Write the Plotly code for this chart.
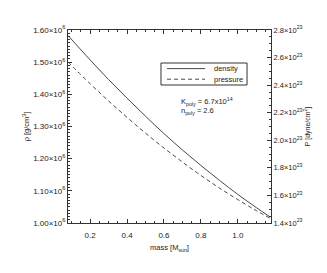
import plotly.graph_objects as go

mass = [0.08, 0.2, 0.3, 0.4, 0.5, 0.6, 0.7, 0.8, 0.9, 1.0, 1.1, 1.175]
density = [1.583e6, 1.507e6, 1.446e6, 1.388e6, 1.332e6, 1.278e6, 1.227e6,
           1.179e6, 1.133e6, 1.089e6, 1.048e6, 1.019e6]
pressure = [2.568e23, 2.410e23, 2.285e23, 2.166e23, 2.052e23, 1.944e23, 1.842e23,
            1.745e23, 1.654e23, 1.570e23, 1.490e23, 1.435e23]

rho_ticks = [1.0e6, 1.1e6, 1.2e6, 1.3e6, 1.4e6, 1.5e6, 1.6e6]
rho_labels = ["1.00×10<sup>6</sup>", "1.10×10<sup>6</sup>", "1.20×10<sup>6</sup>",
              "1.30×10<sup>6</sup>", "1.40×10<sup>6</sup>", "1.50×10<sup>6</sup>",
              "1.60×10<sup>6</sup>"]
p_ticks = [1.4e23, 1.6e23, 1.8e23, 2.0e23, 2.2e23, 2.4e23, 2.6e23, 2.8e23]
p_labels = ["1.4×10<sup>23</sup>", "1.6×10<sup>23</sup>", "1.8×10<sup>23</sup>",
            "2.0×10<sup>23</sup>", "2.2×10<sup>23</sup>", "2.4×10<sup>23</sup>",
            "2.6×10<sup>23</sup>", "2.8×10<sup>23</sup>"]
x_ticks = [0.2, 0.4, 0.6, 0.8, 1.0]
x_labels = ["0.2", "0.4", "0.6", "0.8", "1.0"]
series_names = ["density", "pressure"]

FONT = "Liberation Sans, Arial, sans-serif"
INK = "#333333"
fig = go.Figure()
fig.add_trace(go.Scatter(x=mass, y=density, mode="lines", name=series_names[0],
                         line=dict(color=INK, width=0.9, shape="spline"), yaxis="y"))
fig.add_trace(go.Scatter(x=mass, y=pressure, mode="lines", name=series_names[1],
                         line=dict(color=INK, width=0.9, dash="4px,3px", shape="spline"),
                         yaxis="y2"))

# page body has an 8px default margin, so the figure is sized 319x265
fig.update_layout(
    width=319, height=265,
    margin=dict(l=60, r=56, t=22, b=50),
    paper_bgcolor="white", plot_bgcolor="white",
    font=dict(family=FONT, size=8, color="#222222"),
    showlegend=False,
    xaxis=dict(range=[0.08, 1.18], tickvals=x_ticks, ticktext=x_labels,
               ticks="inside", ticklen=4, tickcolor=INK, showline=True,
               linecolor=INK, linewidth=1, mirror="ticks", showgrid=False,
               zeroline=False, tickfont=dict(size=8), ticklabelstandoff=4,
               minor=dict(dtick=0.05, tick0=0, ticks="inside", ticklen=2, tickcolor=INK),
               title=dict(text="mass [M<sub>sun</sub>]", standoff=6, font=dict(size=7.5))),
    yaxis=dict(range=[1.0e6, 1.6e6], tickvals=rho_ticks, ticktext=rho_labels,
               ticks="inside", ticklen=4, tickcolor=INK, showline=True,
               linecolor=INK, linewidth=1, showgrid=False, zeroline=False,
               tickfont=dict(size=8),
               minor=dict(dtick=0.01e6, tick0=0, ticks="inside", ticklen=2, tickcolor=INK),
               title=dict(text="ρ [g/cm<sup>3</sup>]", standoff=2, font=dict(size=7.5))),
    yaxis2=dict(range=[1.4e23, 2.8e23], tickvals=p_ticks, ticktext=p_labels,
                overlaying="y", side="right",
                ticks="inside", ticklen=4, tickcolor=INK, showline=True,
                linecolor=INK, linewidth=1, showgrid=False, zeroline=False,
                tickfont=dict(size=7.5),
                minor=dict(dtick=0.05e23, tick0=0, ticks="inside", ticklen=2, tickcolor=INK),
                title=dict(text="P [dyne/cm<sup>2</sup>]", standoff=0, font=dict(size=7))),
)

# legend box (drawn manually to match compact row spacing)
fig.add_shape(type="rect", xref="paper", yref="paper", x0=0.458, x1=0.882, y0=0.715, y1=0.829,
              line=dict(color=INK, width=1), fillcolor="white")
fig.add_shape(type="line", xref="paper", yref="paper", x0=0.488, x1=0.675, y0=0.800, y1=0.800,
              line=dict(color=INK, width=0.9))
fig.add_shape(type="line", xref="paper", yref="paper", x0=0.488, x1=0.675, y0=0.745, y1=0.745,
              line=dict(color=INK, width=0.9, dash="4px,3px"))
fig.add_annotation(x=0.71, y=0.800, xref="paper", yref="paper", xanchor="left", yanchor="middle",
                   text=series_names[0], showarrow=False, font=dict(size=7.5, family=FONT))
fig.add_annotation(x=0.71, y=0.745, xref="paper", yref="paper", xanchor="left", yanchor="middle",
                   text=series_names[1], showarrow=False, font=dict(size=7.5, family=FONT))

fig.add_annotation(x=0.547, y=0.630, xref="paper", yref="paper", xanchor="left", yanchor="middle",
                   text="K<sub>poly</sub> = 6.7x10<sup>14</sup>", showarrow=False,
                   font=dict(size=7.5, family=FONT))
fig.add_annotation(x=0.547, y=0.580, xref="paper", yref="paper", xanchor="left", yanchor="middle",
                   text="n<sub>poly</sub> = 2.6", showarrow=False,
                   font=dict(size=7.5, family=FONT))

fig.write_html("out.html")
